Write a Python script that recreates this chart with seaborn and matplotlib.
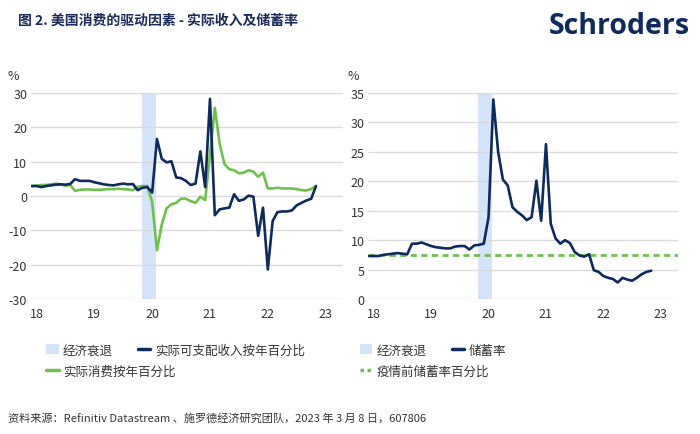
import numpy as np
import pandas as pd
import matplotlib
matplotlib.use("Agg")
import matplotlib.pyplot as plt
import seaborn as sns
from matplotlib.patches import Patch
from matplotlib.lines import Line2D

# ---------------- data (monthly, Feb 2018 - Jan 2023) ----------------
months = pd.date_range("2018-02-01", periods=60, freq="MS")

real_income_yoy = [2.9, 2.9, 2.6, 2.9, 3.1, 3.3, 3.4, 3.3, 3.5, 4.9,
                   4.4, 4.4, 4.4, 4.0, 3.7, 3.4, 3.2, 3.1, 3.4, 3.6,
                   3.4, 3.5, 1.7, 2.4, 2.6, 1.0, 16.6, 10.8, 9.8, 10.1,
                   5.4, 5.2, 4.4, 3.2, 3.6, 13.0, 2.6, 28.3, -5.6, -3.9,
                   -3.6, -3.4, 0.5, -1.4, -1.0, 0.1, -0.2, -11.6, -3.4, -21.4,
                   -7.3, -4.7, -4.5, -4.5, -4.2, -2.7, -2.0, -1.3, -0.8, 2.9]

real_consumption_yoy = [2.9, 3.0, 3.2, 3.2, 3.4, 3.6, 3.4, 3.0, 3.2, 1.5,
                        1.8, 1.9, 1.9, 1.8, 1.8, 1.9, 2.0, 2.0, 2.1, 2.0,
                        1.9, 1.7, 2.7, 2.9, 2.9, -1.8, -15.8, -8.3, -3.6, -2.4,
                        -2.0, -0.8, -0.8, -1.5, -2.0, -0.2, -1.2, 12.0, 25.7, 15.2,
                        9.3, 7.8, 7.5, 6.6, 6.8, 7.5, 7.1, 5.6, 6.8, 2.2,
                        2.2, 2.4, 2.2, 2.2, 2.2, 2.0, 1.7, 1.6, 2.0, 2.9]

saving_rate = [7.3, 7.3, 7.3, 7.5, 7.6, 7.7, 7.8, 7.7, 7.6, 9.4,
               9.4, 9.6, 9.3, 9.0, 8.8, 8.7, 8.6, 8.6, 8.9, 9.0,
               9.0, 8.4, 9.1, 9.2, 9.4, 13.9, 33.9, 25.0, 20.3, 19.3,
               15.6, 14.8, 14.2, 13.4, 13.9, 20.1, 13.3, 26.3, 12.8, 10.3,
               9.4, 10.0, 9.5, 8.0, 7.4, 7.2, 7.6, 4.9, 4.6, 3.9,
               3.6, 3.4, 2.8, 3.6, 3.3, 3.1, 3.6, 4.2, 4.6, 4.8]

pre_pandemic_saving = 7.5

year_labels = ["18", "19", "20", "21", "22", "23"]
left_yticks = [-30, -20, -10, 0, 10, 20, 30]
right_yticks = [0, 5, 10, 15, 20, 25, 30, 35]

title = "图 2. 美国消费的驱动因素 - 实际收入及储蓄率"
footer = "资料来源：Refinitiv Datastream 、施罗德经济研究团队，2023 年 3 月 8 日，607806"
leg_recession = "经济衰退"
leg_income = "实际可支配收入按年百分比"
leg_consumption = "实际消费按年百分比"
leg_saving = "储蓄率"
leg_pre = "疫情前储蓄率百分比"

# ---------------- style ----------------
sns.set_theme(style="white")
plt.rcParams["font.family"] = ["Noto Sans CJK SC", "DejaVu Sans"]
plt.rcParams["axes.unicode_minus"] = False

NAVY = "#0d2b5e"
GREEN = "#6dc24b"
BAND = "#d3e4fb"
GRID = "#dcdcdc"
TXT = "#333333"

df = pd.DataFrame({
    "idx": np.arange(len(months)),
    "income": real_income_yoy,
    "consumption": real_consumption_yoy,
    "saving": saving_rate,
})

tick_pos = [1 + 12 * k for k in range(len(year_labels))]
rec_start, rec_end = 22.8, 25.8
xlim = (-0.2, 64.6)

W, H = 700, 435
fig = plt.figure(figsize=(7, 4.35), dpi=100)
ax1 = fig.add_axes([30.7 / W, 1 - 300 / H, 312.3 / W, 206 / H])
ax2 = fig.add_axes([368 / W, 1 - 300 / H, 310 / W, 206 / H])

for ax in (ax1, ax2):
    ax.axvspan(rec_start, rec_end, color=BAND, lw=0, zorder=0)
    ax.grid(axis="y", color=GRID, lw=1, zorder=0.5)
    ax.grid(axis="x", visible=False)
    for s in ax.spines.values():
        s.set_visible(False)
    ax.set_xlim(*xlim)
    ax.set_xticks(tick_pos)
    ax.set_xticklabels(year_labels)
    ax.tick_params(axis="both", length=0, labelsize=9, colors=TXT)
    ax.tick_params(axis="x", pad=6)
    ax.tick_params(axis="y", pad=2.5)
    ax.set_facecolor("none")

# left chart
sns.lineplot(data=df, x="idx", y="income", ax=ax1, color=NAVY, lw=1.9, zorder=3)
sns.lineplot(data=df, x="idx", y="consumption", ax=ax1, color=GREEN, lw=1.9, zorder=2)
ax1.set_ylim(-30, 30)
ax1.set_yticks(left_yticks)
ax1.set_xlabel(""); ax1.set_ylabel("")

# right chart
ax2.axhline(pre_pandemic_saving, color=GREEN, lw=2, ls=(0, (2.2, 1.6)), zorder=2)
sns.lineplot(data=df, x="idx", y="saving", ax=ax2, color=NAVY, lw=1.9, zorder=3)
ax2.set_ylim(0, 35)
ax2.set_yticks(right_yticks)
ax2.set_xlabel(""); ax2.set_ylabel("")

# % labels
fig.text(13 / W, 1 - 77 / H, "%", fontsize=9, color=TXT, ha="center", va="center")
fig.text(353 / W, 1 - 77 / H, "%", fontsize=9, color=TXT, ha="center", va="center")

# title and logo
fig.text(18 / W, 1 - 21 / H, title, fontsize=10, fontweight="bold", color="#1b2b5b",
         ha="left", va="center")
fig.text(690 / W, 1 - 27 / H, "Schroders", fontsize=20.5, fontweight="bold", color="#0e2a5e",
         ha="right", va="center", family=["Open Sans", "DejaVu Sans"])

# legends
patch_h = Patch(facecolor=BAND, edgecolor="none")
line_navy = Line2D([], [], color=NAVY, lw=2.5)
line_green = Line2D([], [], color=GREEN, lw=2.5)
line_dot = Line2D([], [], color=GREEN, lw=2.5, ls=(0, (1, 1)))

common = dict(frameon=False, fontsize=9, handlelength=1.0, handleheight=0.9,
              handletextpad=0.35, columnspacing=2.0, borderpad=0, borderaxespad=0,
              labelcolor=TXT)

def add_leg(handles, labels, x, y, ncol):
    return fig.legend(handles, labels, loc="center left", bbox_to_anchor=(x / W, 1 - y / H),
                      ncol=ncol, **common)

add_leg([patch_h, line_navy], [leg_recession, leg_income], 46, 351, 2)
add_leg([line_green], [leg_consumption], 46, 372, 1)
add_leg([patch_h, line_navy], [leg_recession, leg_saving], 360, 351, 2)
add_leg([line_dot], [leg_pre], 360, 372, 1)

# footer
fig.text(8 / W, 1 - 418 / H, footer, fontsize=8, color=TXT, ha="left", va="center")

fig.savefig("out.png", dpi=100)
